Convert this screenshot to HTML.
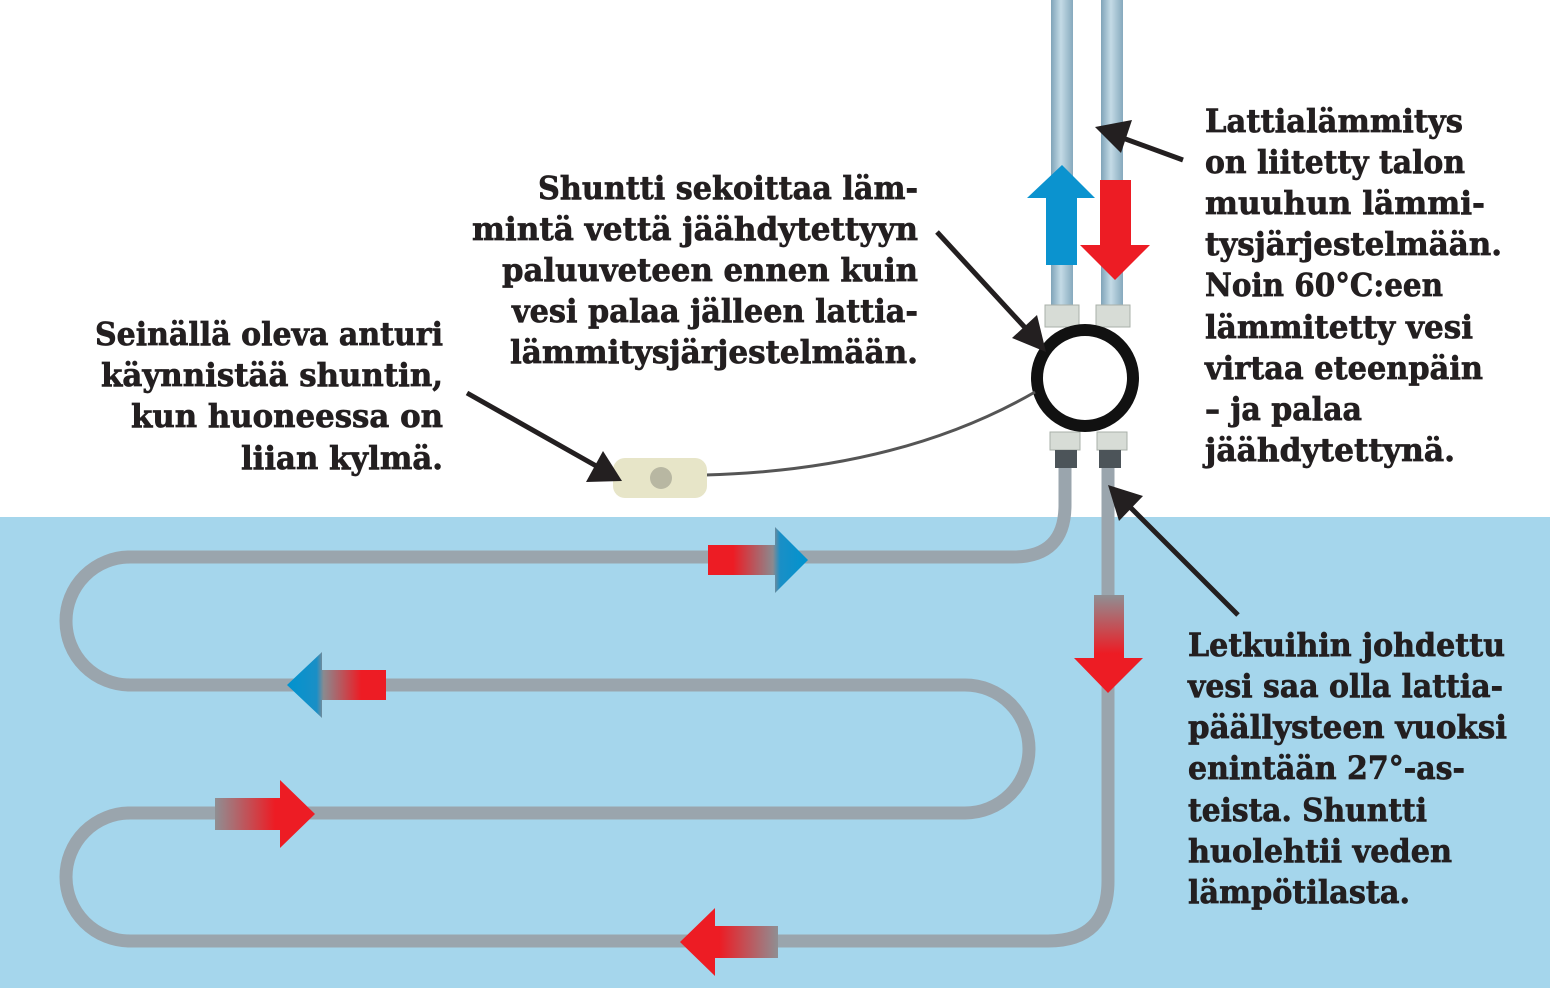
<!DOCTYPE html>
<html><head><meta charset="utf-8">
<style>
html,body{margin:0;padding:0;background:#fff;}
svg{display:block;}
text{font-family:"DejaVu Serif","Liberation Serif",serif;font-weight:bold;font-size:32px;fill:#231f20;stroke:#231f20;stroke-width:0.7px;}
</style></head><body>
<svg width="1550" height="988" viewBox="0 0 1550 988" xmlns="http://www.w3.org/2000/svg">
<defs>
<linearGradient id="pipeV" x1="0" x2="1" y1="0" y2="0">
<stop offset="0" stop-color="#7fa3b8"/><stop offset="0.45" stop-color="#c4dbe6"/><stop offset="1" stop-color="#86a9bd"/>
</linearGradient>
<linearGradient id="gRB" x1="708" x2="808" y1="0" y2="0" gradientUnits="userSpaceOnUse">
<stop offset="0" stop-color="#ed1c24"/><stop offset="0.25" stop-color="#ed1c24"/><stop offset="0.65" stop-color="#8a8a8f"/><stop offset="0.72" stop-color="#1a8fc6"/><stop offset="1" stop-color="#0093cf"/>
</linearGradient>
<linearGradient id="gBR" x1="287" x2="386" y1="0" y2="0" gradientUnits="userSpaceOnUse">
<stop offset="0" stop-color="#0093cf"/><stop offset="0.3" stop-color="#1a8fc6"/><stop offset="0.37" stop-color="#8a8a8f"/><stop offset="0.75" stop-color="#ed1c24"/><stop offset="1" stop-color="#ed1c24"/>
</linearGradient>
<linearGradient id="gGR" x1="215" x2="315" y1="0" y2="0" gradientUnits="userSpaceOnUse">
<stop offset="0" stop-color="#8f8f93"/><stop offset="0.6" stop-color="#ed1c24"/><stop offset="1" stop-color="#ed1c24"/>
</linearGradient>
<linearGradient id="gRG" x1="680" x2="778" y1="0" y2="0" gradientUnits="userSpaceOnUse">
<stop offset="0" stop-color="#ed1c24"/><stop offset="0.4" stop-color="#ed1c24"/><stop offset="1" stop-color="#8f8f93"/>
</linearGradient>
<linearGradient id="gDown" x1="0" x2="0" y1="595" y2="693" gradientUnits="userSpaceOnUse">
<stop offset="0" stop-color="#8f8f93"/><stop offset="0.6" stop-color="#ed1c24"/><stop offset="1" stop-color="#ed1c24"/>
</linearGradient>
</defs>

<rect x="0" y="517" width="1550" height="471" fill="#a5d6ec"/>

<rect x="1051" y="0" width="22" height="310" fill="url(#pipeV)"/>
<rect x="1101" y="0" width="22" height="310" fill="url(#pipeV)"/>

<g fill="none" stroke="#9aa5ad" stroke-width="13">
<path d="M1065 455 L1065 505 Q1065 557 1013 557 L130 557 A64 64 0 0 0 130 685 L965 685 A64 64 0 0 1 965 813 L130 813 A64 64 0 0 0 130 941 L1048 941 Q1108 941 1108 881 L1108 455"/>
</g>

<g fill="#d7dcd6" stroke="#a9b0a9" stroke-width="1">
<rect x="1045" y="305" width="34" height="22"/>
<rect x="1096" y="305" width="34" height="22"/>
<rect x="1050" y="432" width="30" height="18"/>
<rect x="1097" y="432" width="30" height="18"/>
</g>
<rect x="1055" y="450" width="22" height="18" fill="#4c5459"/>
<rect x="1099" y="450" width="22" height="18" fill="#4c5459"/>

<circle cx="1085" cy="378" r="48" fill="#fff" stroke="#111" stroke-width="12"/>

<path d="M705 475 Q900 470 1035 392" fill="none" stroke="#555" stroke-width="3"/>
<rect x="613" y="458" width="94" height="40" rx="12" fill="#e7e5c8"/>
<circle cx="661" cy="478" r="11" fill="#b8b7a2"/>

<polygon points="1046,265 1077,265 1077,198 1095,198 1062,165 1027,198 1046,198" fill="#0b93cf"/>
<polygon points="1100,180 1131,180 1131,245 1150,245 1115,280 1080,245 1100,245" fill="#ed1c24"/>

<polygon points="708,545 775,545 775,527 808,560 775,593 775,575 708,575" fill="url(#gRB)"/>
<polygon points="386,670 322,670 322,652 287,685 322,718 322,700 386,700" fill="url(#gBR)"/>
<polygon points="215,798 280,798 280,780 315,814 280,848 280,830 215,830" fill="url(#gGR)"/>
<polygon points="778,926 715,926 715,908 680,942 715,976 715,958 778,958" fill="url(#gRG)"/>
<polygon points="1094,595 1124,595 1124,658 1143,658 1108,693 1074,658 1094,658" fill="url(#gDown)"/>

<g stroke="#231f20" stroke-width="5" fill="#231f20">
<line x1="1183" y1="160" x2="1120" y2="137"/>
<polygon points="1095,127 1132,120 1121,153" stroke="none"/>
<line x1="937" y1="232" x2="1030" y2="333"/>
<polygon points="1046,352 1012,338 1037,315" stroke="none"/>
<line x1="467" y1="393" x2="598" y2="467"/>
<polygon points="622,481 586,482 603,451" stroke="none"/>
<line x1="1238" y1="615" x2="1127" y2="504"/>
<polygon points="1108,485 1143,496 1119,521" stroke="none"/>
</g>

<g>
<text x="1205" y="132" textLength="258" lengthAdjust="spacingAndGlyphs">Lattialämmitys</text>
<text x="1205" y="173" textLength="260" lengthAdjust="spacingAndGlyphs">on liitetty talon</text>
<text x="1205" y="214" textLength="280" lengthAdjust="spacingAndGlyphs">muuhun lämmi-</text>
<text x="1205" y="255" textLength="297" lengthAdjust="spacingAndGlyphs">tysjärjestelmään.</text>
<text x="1205" y="296" textLength="238" lengthAdjust="spacingAndGlyphs">Noin 60°C:een</text>
<text x="1205" y="338" textLength="268" lengthAdjust="spacingAndGlyphs">lämmitetty vesi</text>
<text x="1205" y="379" textLength="278" lengthAdjust="spacingAndGlyphs">virtaa eteenpäin</text>
<text x="1205" y="420" textLength="157" lengthAdjust="spacingAndGlyphs">– ja palaa</text>
<text x="1205" y="461" textLength="250" lengthAdjust="spacingAndGlyphs">jäähdytettynä.</text>

<text x="538" y="199" textLength="380" lengthAdjust="spacingAndGlyphs">Shuntti sekoittaa läm-</text>
<text x="472" y="240" textLength="446" lengthAdjust="spacingAndGlyphs">mintä vettä jäähdytettyyn</text>
<text x="502" y="281" textLength="416" lengthAdjust="spacingAndGlyphs">paluuveteen ennen kuin</text>
<text x="512" y="322" textLength="406" lengthAdjust="spacingAndGlyphs">vesi palaa jälleen lattia-</text>
<text x="510" y="363" textLength="408" lengthAdjust="spacingAndGlyphs">lämmitysjärjestelmään.</text>

<text x="95" y="345" textLength="348" lengthAdjust="spacingAndGlyphs">Seinällä oleva anturi</text>
<text x="101" y="386" textLength="342" lengthAdjust="spacingAndGlyphs">käynnistää shuntin,</text>
<text x="131" y="427" textLength="312" lengthAdjust="spacingAndGlyphs">kun huoneessa on</text>
<text x="241" y="469" textLength="202" lengthAdjust="spacingAndGlyphs">liian kylmä.</text>

<text x="1188" y="656" textLength="317" lengthAdjust="spacingAndGlyphs">Letkuihin johdettu</text>
<text x="1188" y="697" textLength="315" lengthAdjust="spacingAndGlyphs">vesi saa olla lattia-</text>
<text x="1188" y="738" textLength="319" lengthAdjust="spacingAndGlyphs">päällysteen vuoksi</text>
<text x="1188" y="779" textLength="277" lengthAdjust="spacingAndGlyphs">enintään 27°-as-</text>
<text x="1188" y="821" textLength="239" lengthAdjust="spacingAndGlyphs">teista. Shuntti</text>
<text x="1188" y="862" textLength="264" lengthAdjust="spacingAndGlyphs">huolehtii veden</text>
<text x="1188" y="903" textLength="222" lengthAdjust="spacingAndGlyphs">lämpötilasta.</text>
</g>
</svg>
</body></html>
